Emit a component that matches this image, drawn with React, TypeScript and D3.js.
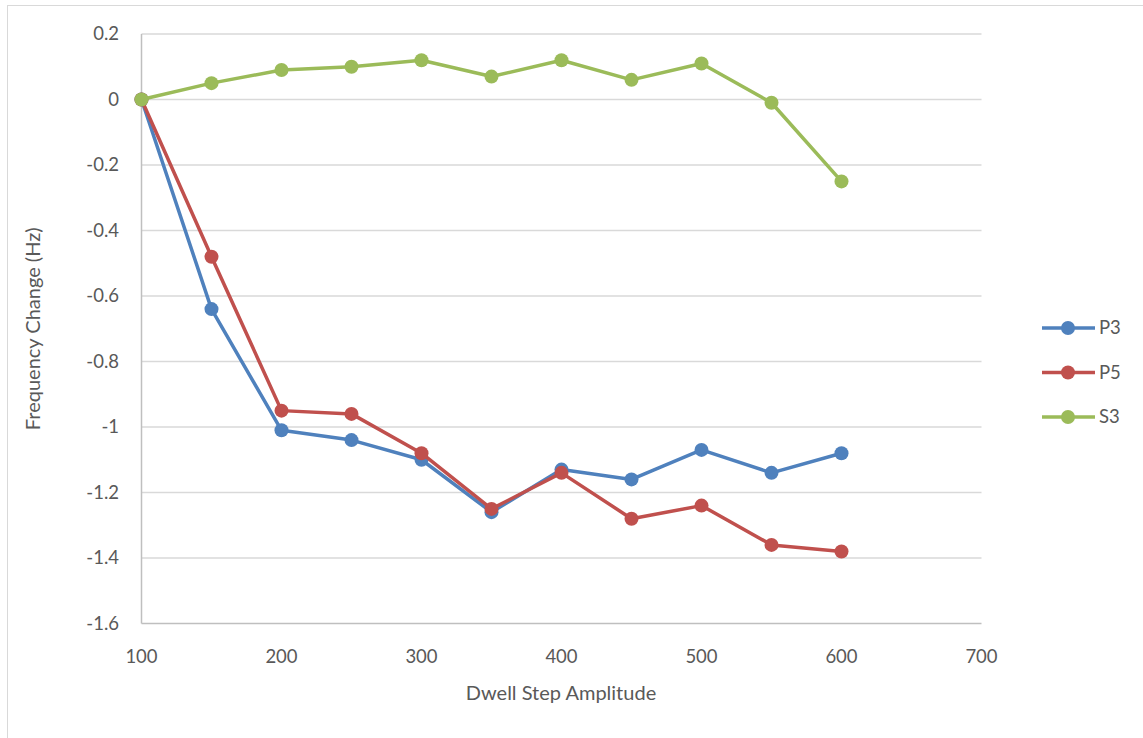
import React from "react";
import * as d3 from "d3";

const xValues = [100, 150, 200, 250, 300, 350, 400, 450, 500, 550, 600];
const p3 = [0, -0.64, -1.01, -1.04, -1.1, -1.26, -1.13, -1.16, -1.07, -1.14, -1.08];
const p5 = [0, -0.48, -0.95, -0.96, -1.08, -1.25, -1.14, -1.28, -1.24, -1.36, -1.38];
const s3 = [0, 0.05, 0.09, 0.1, 0.12, 0.07, 0.12, 0.06, 0.11, -0.01, -0.25];
const seriesNames = ["P3", "P5", "S3"];
const seriesColors = ["#4f81bd", "#c0504d", "#9bbb59"];
const xTicks = [100, 200, 300, 400, 500, 600, 700];
const yTicks = [0.2, 0, -0.2, -0.4, -0.6, -0.8, -1, -1.2, -1.4, -1.6];

export default function App() {
  const W = 1143, H = 738;
  const x = d3.scaleLinear().domain([100, 700]).range([141.5, 981.5]);
  const y = d3.scaleLinear().domain([-1.6, 0.2]).range([623.5, 34]);
  const series = [p3, p5, s3];
  const line = d3.line<number>().x((_, i) => x(xValues[i])).y((d) => y(d));
  const font = "Lato, 'Open Sans', sans-serif";
  const legendY = [328, 372.5, 417];
  return (
    <svg width={W} height={H} style={{ position: "absolute", left: 0, top: 0 }} fontFamily={font}>
      <rect x={0} y={0} width={W} height={H} fill="#fff" />
      <rect x={7.5} y={5.5} width={W} height={H} fill="none" stroke="#d9d9d9" />
      {yTicks.map((t) => (
        <line key={t} x1={x(100)} x2={x(700)} y1={y(t)} y2={y(t)} stroke={t === -1.6 ? "#bfbfbf" : "#d9d9d9"} strokeWidth={1.5} />
      ))}
      <line x1={x(100)} x2={x(100)} y1={y(0.2)} y2={y(-1.6)} stroke="#bfbfbf" strokeWidth={1.5} />
      {yTicks.map((t) => (
        <text key={t} x={119} y={y(t)} dy="0.35em" textAnchor="end" fontSize={18.5} fill="#595959">
          {String(+t.toFixed(1))}
        </text>
      ))}
      {xTicks.map((t) => (
        <text key={t} x={x(t)} y={657} dy="0.35em" textAnchor="middle" fontSize={18.5} fill="#595959">
          {t}
        </text>
      ))}
      <text x={561} y={693} dy="0.35em" textAnchor="middle" fontSize={20} fill="#595959">
        Dwell Step Amplitude
      </text>
      <text transform={`translate(33,${(y(0.2) + y(-1.6)) / 2}) rotate(-90)`} dy="0.35em" textAnchor="middle" fontSize={20} fill="#595959">
        Frequency Change (Hz)
      </text>
      {series.map((s, k) => (
        <g key={k}>
          <path d={line(s) || ""} fill="none" stroke={seriesColors[k]} strokeWidth={3.5} strokeLinejoin="round" />
          {s.map((v, i) => (
            <circle key={i} cx={x(xValues[i])} cy={y(v)} r={7} fill={seriesColors[k]} />
          ))}
        </g>
      ))}
      {seriesNames.map((n, k) => (
        <g key={n}>
          <line x1={1042} x2={1095} y1={legendY[k]} y2={legendY[k]} stroke={seriesColors[k]} strokeWidth={3.5} />
          <circle cx={1068} cy={legendY[k]} r={7} fill={seriesColors[k]} />
          <text x={1099} y={legendY[k]} dy="0.35em" fontSize={18.5} fill="#595959">{n}</text>
        </g>
      ))}
    </svg>
  );
}
